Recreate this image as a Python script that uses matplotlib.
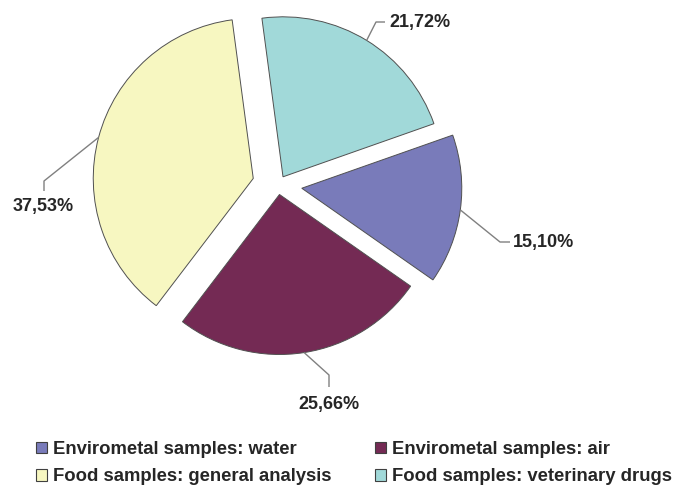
"""Pie chart of sample categories with exploded slices and leader labels."""
import numpy as np
import matplotlib as mpl
from matplotlib import pyplot as plt
from matplotlib.patches import Patch

mpl.rcParams["font.family"] = "sans-serif"
mpl.rcParams["font.sans-serif"] = ["Liberation Sans", "DejaVu Sans"]
mpl.rcParams["text.color"] = "#262626"

# Data
categories = ["Envirometal samples: water",
              "Envirometal samples: air",
              "Food samples: general analysis",
              "Food samples: veterinary drugs"]
shares = [15.10, 25.66, 37.53, 21.72]
colors = ["#797BBA", "#742A54", "#F7F7C1", "#A1D9D9"]
explode_frac = [0.15, 0.06, 0.16, 0.06]

# Layout (figure pixels, y measured from the top)
W, H = 675, 487
pie_center = (278, 185)
pie_radius = 160
# elbow and end of every leader line, then text anchor + alignment
leaders = [
    ((500, 242), (510, 242), (513, 243), "left"),
    ((329, 375), (329, 387), (329, 405), "center"),
    ((44, 181), (44, 191), (43, 207), "center"),
    ((376, 22), (385, 22), (389, 23), "left"),
]

fig = plt.figure(figsize=(W / 100, H / 100), dpi=100)
ax = fig.add_axes([0, 0, 1, 1])

# pie() takes the explode offset in data units
explode = [f * pie_radius for f in explode_frac]
wedges, _ = ax.pie(shares, colors=colors, explode=explode,
                   startangle=19.4, counterclock=False,
                   center=(pie_center[0], H - pie_center[1]),
                   radius=pie_radius, frame=True,
                   wedgeprops=dict(edgecolor="#505050", linewidth=0.7))
ax.set_xlim(0, W)
ax.set_ylim(0, H)
ax.set_aspect("equal")
ax.axis("off")

for w, val, (elbow, end, txt, ha) in zip(wedges, shares, leaders):
    mid = np.deg2rad(0.5 * (w.theta1 + w.theta2))
    x0 = w.center[0] + w.r * np.cos(mid)
    y0 = w.center[1] + w.r * np.sin(mid)
    xs = [x0, elbow[0], end[0]]
    ys = [y0, H - elbow[1], H - end[1]]
    ax.plot(xs, ys, color="#808080", lw=1.0, solid_capstyle="butt")
    label = "{:.2f}%".format(val).replace(".", ",")
    ax.text(txt[0], H - txt[1], label, ha=ha, va="center",
            fontsize=13, fontweight="bold")

# Legend, filled column by column
order = [0, 2, 1, 3]
handles = [Patch(facecolor=colors[i], edgecolor="#404040", linewidth=0.8,
                 label=categories[i]) for i in order]
fig.legend(handles=handles, ncol=2, loc="upper left",
           bbox_to_anchor=(36 / W, 1 - 441 / H), frameon=False,
           prop=dict(size=13.3, weight="bold"),
           handlelength=0.62, handleheight=0.62, handletextpad=0.3,
           columnspacing=2.35, labelspacing=0.55, borderpad=0,
           borderaxespad=0)

plt.savefig("out.png", dpi=100)
plt.close()
